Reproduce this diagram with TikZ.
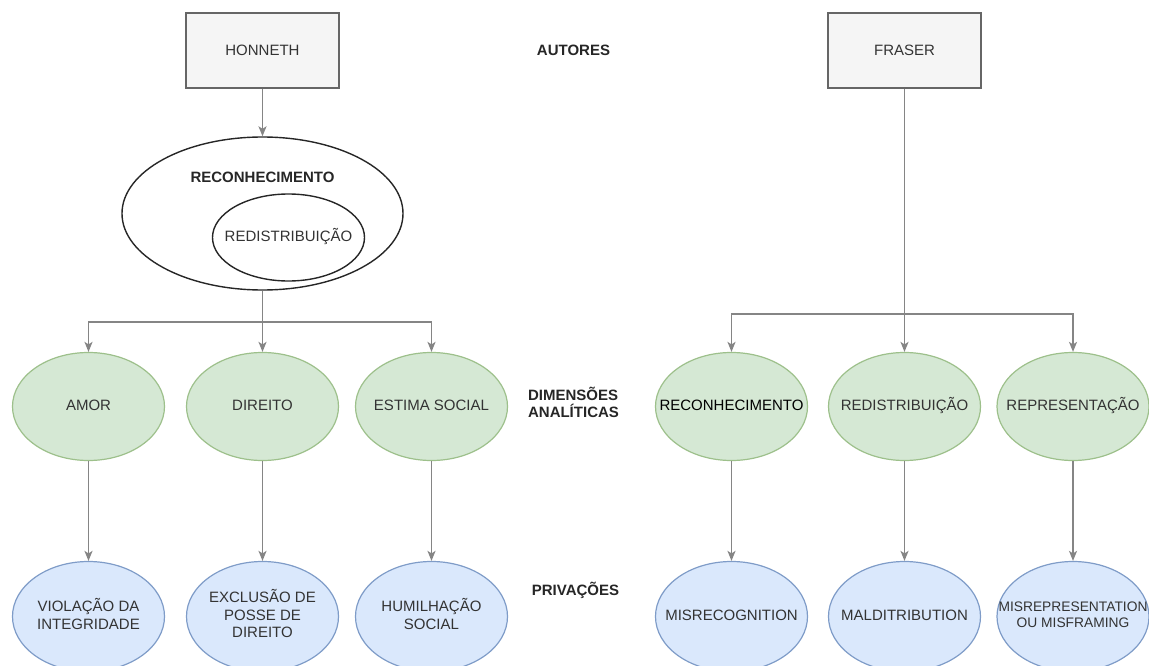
\documentclass[tikz,border=0pt]{standalone}
\usepackage{fontspec}
\setmainfont{Liberation Sans}
\usepackage{tikz}
\usetikzlibrary{positioning,shapes.geometric,arrows.meta}
\definecolor{boxfill}{HTML}{F5F5F5}
\definecolor{boxline}{HTML}{666666}
\definecolor{dimfill}{HTML}{D5E8D4}
\definecolor{dimline}{HTML}{9DC08B}
\definecolor{privfill}{HTML}{DAE8FC}
\definecolor{privline}{HTML}{7F9CC8}
\definecolor{connline}{HTML}{858585}
\definecolor{txtgray}{HTML}{333333}
\newcommand{\inell}[1]{\makebox[0pt]{\begin{tabular}{@{}c@{}}#1\end{tabular}}}
\tikzset{
  every node/.style={
    font=\fontsize{15}{17.5}\selectfont,
    text=txtgray
  },
  authbox/.style={
    draw=boxline, fill=boxfill, line width=1.4pt,
    minimum width=153pt, minimum height=75pt
  },
  dimnode/.style={
    ellipse, draw=dimline, fill=dimfill, line width=1.2pt,
    inner sep=0pt, minimum width=152pt, minimum height=108pt
  },
  privnode/.style={
    ellipse, draw=privline, fill=privfill, line width=1.2pt,
    inner sep=0pt, minimum width=152pt, minimum height=110pt
  },
  outerell/.style={
    ellipse, draw=black!85, line width=1.4pt, inner sep=0pt
  },
  rowlabel/.style={
    font=\fontsize{15}{17}\selectfont\bfseries, text=black!85, align=left
  },
  conn/.style={
    draw=connline, line width=1.6pt,
    -{Stealth[length=10pt,width=8pt,inset=2.5pt]}
  }
}

\begin{document}
\begin{tikzpicture}[x=1pt,y=-1pt]
  \useasboundingbox (0,0) rectangle (1149,666);

  % autores
  \node [authbox] (Honneth) at (262.5,50.5) {HONNETH};
  \node [authbox, on grid, right=642pt of Honneth] (Fraser) {FRASER};
  \node [rowlabel, on grid, right=311pt of Honneth] (Autores) {AUTORES};

  % honneth: reconhecimento contendo redistribuicao
  \node [outerell, on grid, below=163pt of Honneth, minimum width=281pt, minimum height=153pt] (RecoBig) {};
  \node [on grid, above=36pt of RecoBig, font=\fontsize{15}{17.5}\selectfont\bfseries, text=black!85] (RecoBigTxt) {RECONHECIMENTO};
  \node [outerell, on grid, below right=24pt and 26pt of RecoBig, minimum width=152pt, minimum height=87pt] (RedisIn) {\inell{REDISTRIBUIÇÃO}};

  % dimensoes analiticas
  \node [dimnode, on grid, below=193pt of RecoBig] (Direito) {\inell{DIREITO}};
  \node [dimnode, on grid, left=174pt of Direito] (Amor) {\inell{AMOR}};
  \node [dimnode, on grid, right=169pt of Direito] (Estima) {\inell{ESTIMA SOCIAL}};
  \node [dimnode, on grid, right=300pt of Estima] (RecoR) {\inell{\color{black}RECONHECIMENTO}};
  \node [dimnode, on grid, right=173pt of RecoR] (RedisR) {\inell{REDISTRIBUIÇÃO}};
  \node [dimnode, on grid, right=168.5pt of RedisR] (Repres) {\inell{REPRESENTAÇÃO}};
  \node [rowlabel, on grid, above right=4pt and 142pt of Estima] (Dimensoes) {DIMENSÕES\\ANALÍTICAS};

  % privacoes
  \node [privnode, on grid, below=210pt of Amor] (Violacao) {\inell{VIOLAÇÃO DA\\INTEGRIDADE}};
  \node [privnode, on grid, below=210pt of Direito] (Exclusao) {\inell{EXCLUSÃO DE\\POSSE DE\\DIREITO}};
  \node [privnode, on grid, below=210pt of Estima] (Humilha) {\inell{HUMILHAÇÃO\\SOCIAL}};
  \node [privnode, on grid, below=210pt of RecoR] (Misreco) {\inell{MISRECOGNITION}};
  \node [privnode, on grid, below=210pt of RedisR] (Maldist) {\inell{MALDITRIBUTION}};
  \node [privnode, on grid, below=210pt of Repres, font=\fontsize{13.8}{16}\selectfont] (Misrep) {\inell{MISREPRESENTATION\\OU MISFRAMING}};
  \node [rowlabel, on grid, above right=26pt and 144pt of Humilha] (Privacoes) {PRIVAÇÕES};

  % ligacoes
  \coordinate (JunL) at (262.5,322);
  \coordinate (JunR) at (904.5,314);
  \draw [conn] (Honneth) -- (RecoBig);
  \draw [conn] (RecoBig.south) -- (Direito);
  \draw [conn] (JunL) -| (Amor);
  \draw [conn] (JunL) -| (Estima);
  \draw [conn] (Fraser) -- (RedisR);
  \draw [conn] (JunR) -| (RecoR);
  \draw [conn] (JunR) -| (Repres);
  \draw [conn] (Amor) -- (Violacao);
  \draw [conn] (Direito) -- (Exclusao);
  \draw [conn] (Estima) -- (Humilha);
  \draw [conn] (RecoR) -- (Misreco);
  \draw [conn] (RedisR) -- (Maldist);
  \draw [conn] (Repres) -- (Misrep);
\end{tikzpicture}
\end{document}
